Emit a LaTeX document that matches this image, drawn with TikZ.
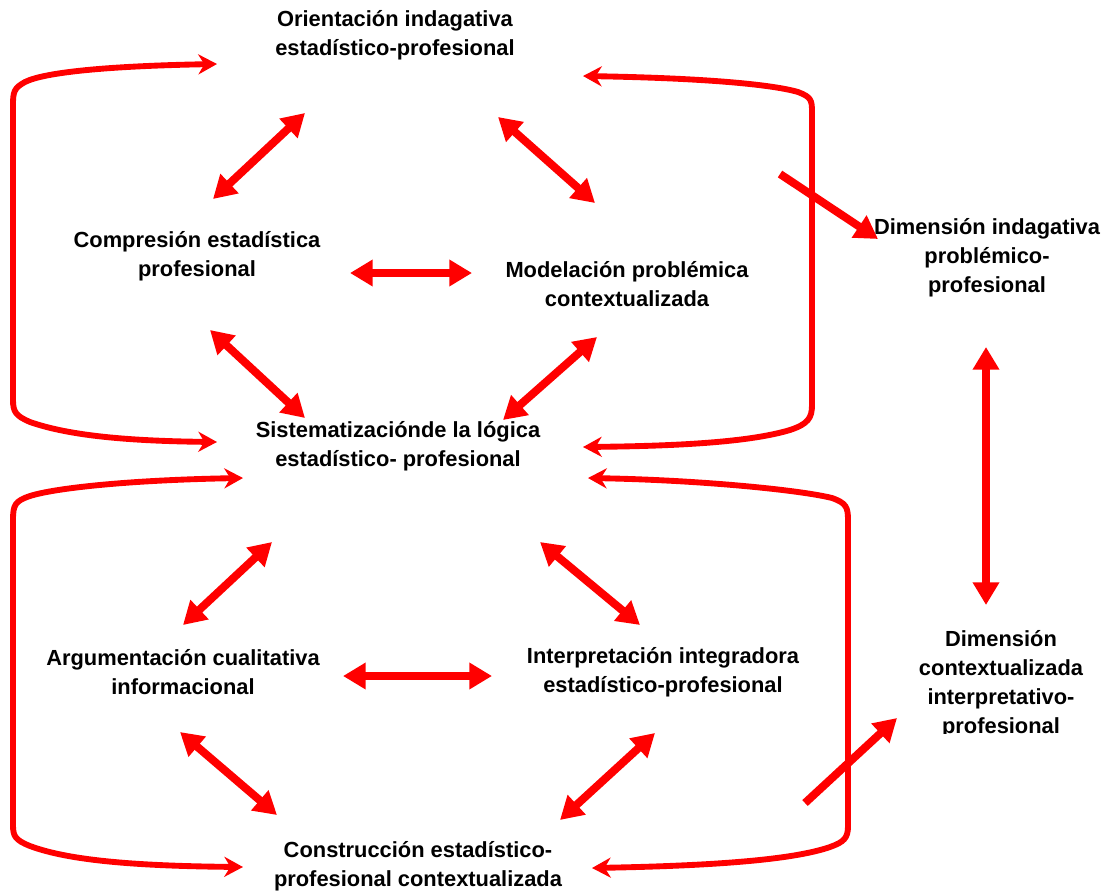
\documentclass[tikz,border=0pt]{standalone}
\usepackage{fontspec}
\setmainfont{Liberation Sans}
\usetikzlibrary{arrows.meta}
\definecolor{arr}{RGB}{255,0,0}
\begin{document}
\begin{tikzpicture}[x=0.75pt,y=-0.75pt,
  lbl/.style={align=center,inner sep=0pt,font=\fontsize{16.4}{21.8}\selectfont\bfseries},
  dbl/.style={draw=arr,line width=6pt,{Triangle[length=17pt,width=19pt]}-{Triangle[length=17pt,width=19pt]}},
  sgl/.style={draw=arr,line width=6pt,-{Triangle[length=17pt,width=19pt]}},
  brk/.style={draw=arr,line width=4.4pt,line join=round,{Stealth[length=14pt,width=15pt,inset=4.5pt]}-{Stealth[length=14pt,width=15pt,inset=4.5pt]}}]
\useasboundingbox (0,0) rectangle (1105,892);
% nodes
\node[lbl] (ori) at (395,35) {Orientación indagativa\\estadístico-profesional};
\node[lbl] (comp) at (197,256) {Compresión estadística\\profesional};
\node[lbl] (mod) at (627,284) {Modelación problémica\\contextualizada};
\node[lbl] (sis) at (398,446) {Sistematizaciónde la lógica\\estadístico- profesional};
\node[lbl] (dind) at (987,258) {Dimensión indagativa\\problémico-\\profesional};
\node[lbl] (arg) at (183,672) {Argumentación cualitativa\\informacional};
\node[lbl] (int) at (663,672) {Interpretación integradora\\estadístico-profesional};
\begin{scope}
\clip (880,600) rectangle (1105,733);
\node[lbl] (dctx) at (1001,684) {Dimensión\\contextualizada\\interpretativo-\\profesional};
\end{scope}
\node[lbl] (cons) at (418,866) {Construcción estadístico-\\profesional contextualizada};
% endpoints
\coordinate (a1) at (305,113); \coordinate (b1) at (213,199);
\coordinate (a2) at (498,117); \coordinate (b2) at (595,203);
\coordinate (a3) at (350,273); \coordinate (b3) at (472,273);
\coordinate (a4) at (210,330); \coordinate (b4) at (305,418);
\coordinate (a5) at (597,337); \coordinate (b5) at (503,420);
\coordinate (a6) at (272,542); \coordinate (b6) at (183,625);
\coordinate (a7) at (540,542); \coordinate (b7) at (640,625);
\coordinate (a8) at (343,676); \coordinate (b8) at (492,676);
\coordinate (a9) at (180,732); \coordinate (b9) at (277,815);
\coordinate (a10) at (655,733); \coordinate (b10) at (560,820);
\coordinate (a11) at (986,347); \coordinate (b11) at (986,605);
\coordinate (s1) at (780,174); \coordinate (t1) at (878,239);
\coordinate (s2) at (805,803); \coordinate (t2) at (897,718);
% double arrows
\foreach \i in {1,...,11} {\draw[dbl] (a\i) -- (b\i);}
\draw[sgl] (s1) -- (t1);
\draw[sgl] (s2) -- (t2);
% bracket arrows
\coordinate (p1) at (217,64); \coordinate (q1) at (217,442);
\coordinate (p2) at (583,76); \coordinate (q2) at (583,447);
\coordinate (p3) at (243,478); \coordinate (q3) at (243,867);
\coordinate (p4) at (588,478); \coordinate (q4) at (592,868);
\draw[brk] (p1) .. controls (110,66) and (45,72) .. (25,82) .. controls (14,88) and (13,92) .. (13,105) -- (13,400) .. controls (13,412) and (16,416) .. (30,422) .. controls (70,436) and (130,441) .. (q1);
\draw[brk] (p2) .. controls (700,78) and (770,84) .. (798,92) .. controls (811,97) and (812,100) .. (812,112) -- (812,405) .. controls (812,418) and (808,424) .. (790,430) .. controls (750,442) and (680,446) .. (q2);
\draw[brk] (p3) .. controls (130,480) and (55,488) .. (30,496) .. controls (15,501) and (13,505) .. (13,520) -- (13,825) .. controls (13,836) and (15,840) .. (30,846) .. controls (70,861) and (140,866) .. (q3);
\draw[brk] (p4) .. controls (700,480) and (800,490) .. (832,498) .. controls (846,503) and (848,507) .. (848,520) -- (848,826) .. controls (848,838) and (844,842) .. (830,847) .. controls (790,861) and (700,866) .. (q4);
\end{tikzpicture}
\end{document}
